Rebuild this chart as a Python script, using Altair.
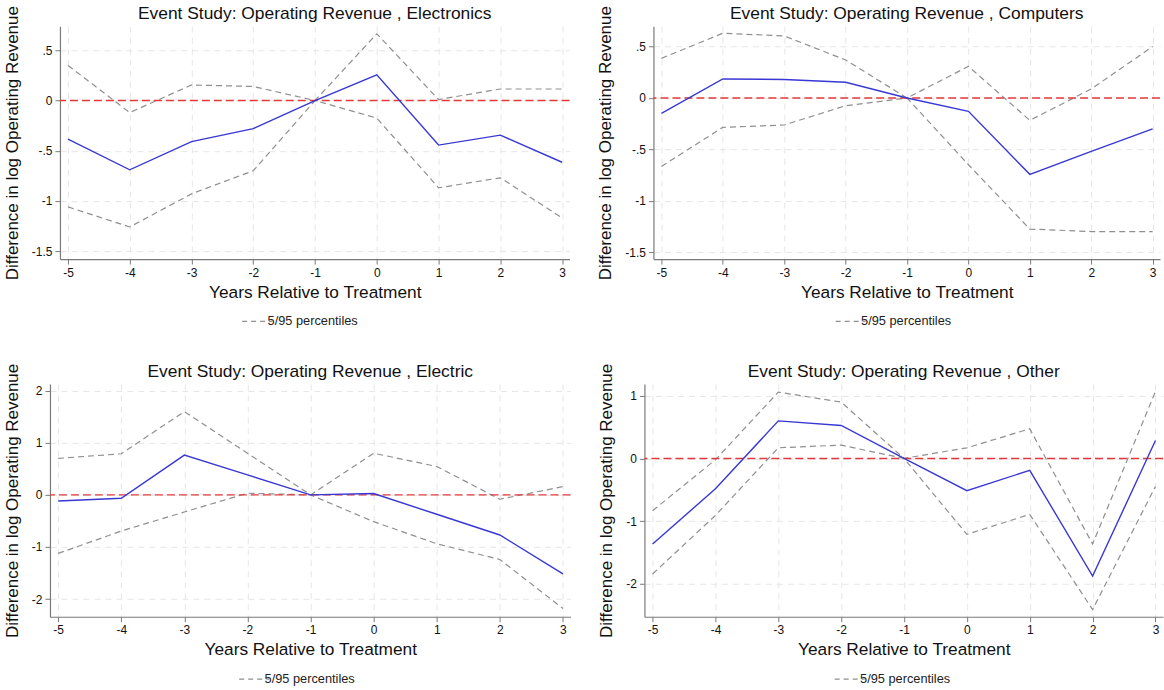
import altair as alt
import pandas as pd

# Event-study estimates of log operating revenue, by sector
years = [-5, -4, -3, -2, -1, 0, 1, 2, 3]

electronics_coef = [-0.385, -0.69, -0.41, -0.28, 0.0, 0.257, -0.444, -0.345, -0.615]
electronics_hi = [0.35, -0.12, 0.155, 0.14, 0.0, 0.665, 0.01, 0.115, 0.115]
electronics_lo = [-1.06, -1.26, -0.93, -0.70, 0.0, -0.175, -0.87, -0.77, -1.17]

computers_coef = [-0.15, 0.185, 0.18, 0.153, 0.0, -0.13, -0.743, -0.52, -0.30]
computers_hi = [0.386, 0.63, 0.604, 0.37, 0.0, 0.308, -0.218, 0.088, 0.50]
computers_lo = [-0.666, -0.286, -0.263, -0.075, 0.0, -0.65, -1.276, -1.30, -1.30]

electric_coef = [-0.116, -0.064, 0.764, 0.385, 0.0, 0.026, -0.372, -0.77, -1.516]
electric_hi = [0.70, 0.79, 1.60, 0.80, 0.0, 0.80, 0.546, -0.083, 0.16]
electric_lo = [-1.124, -0.694, -0.328, 0.032, 0.0, -0.514, -0.938, -1.24, -2.18]

other_coef = [-1.367, -0.484, 0.60, 0.527, 0.0, -0.516, -0.19, -1.88, 0.287]
other_hi = [-0.835, -0.02, 1.06, 0.90, 0.0, 0.17, 0.473, -1.367, 1.07]
other_lo = [-1.846, -0.91, 0.17, 0.213, 0.0, -1.213, -0.894, -2.415, -0.447]

band_label = "5/95 percentiles"
FONT = "Liberation Sans"

# Stata-style numbers: hyphen minus, no leading zero before the decimal point
stata_label = "(datum.value < 0 ? '-' : '') + replace(format(abs(datum.value), '~g'), '0.', '.')"


def panel(sector, coef, lo, hi, ydomain, yticks, width, height, legend_x):
    est = pd.DataFrame({"year": years, "coef": coef})
    band = pd.DataFrame({
        "year": years * 2,
        "value": lo + hi,
        "bound": ["lo"] * len(years) + ["hi"] * len(years),
        "band": [band_label] * (2 * len(years)),
    })

    xscale = alt.Scale(domain=[-5.13, 3.12], nice=False, zero=False)
    yscale = alt.Scale(domain=ydomain, nice=False, zero=False)
    xaxis = alt.Axis(values=years, labelExpr=stata_label, title="Years Relative to Treatment")
    yaxis = alt.Axis(values=yticks, labelExpr=stata_label, title="Difference in log Operating Revenue")

    ci = alt.Chart(band).mark_line(strokeWidth=1.2, strokeDash=[6, 4]).encode(
        x=alt.X("year:Q", scale=xscale, axis=xaxis),
        y=alt.Y("value:Q", scale=yscale, axis=yaxis),
        detail="bound:N",
        color=alt.Color(
            "band:N",
            scale=alt.Scale(domain=[band_label], range=["#8f8f8f"]),
            legend=alt.Legend(
                title=None,
                orient="none",
                legendX=legend_x,
                legendY=height + 56,
                symbolType="M-3,0L3,0",
                symbolSize=100,
                symbolDash=[5, 4],
                symbolStrokeWidth=1.2,
                labelFontSize=12.8,
                labelFont=FONT,
                labelColor="#222222",
                labelOffset=4,
            ),
        ),
    )

    zero = alt.Chart(pd.DataFrame({"y": [0]})).mark_rule(
        color="#e3393b", strokeWidth=1.4, strokeDash=[8, 4]
    ).encode(y="y:Q")

    line = alt.Chart(est).mark_line(color="#3838d4", strokeWidth=1.4).encode(
        x="year:Q", y="coef:Q"
    )

    return alt.layer(ci, zero, line).properties(
        width=width,
        height=height,
        title=alt.TitleParams(
            text=f"Event Study: Operating Revenue , {sector}",
            fontSize=17.4,
            font=FONT,
            fontWeight="normal",
            color="#111111",
            anchor="middle",
            frame="group",
            offset=-17,
        ),
    )


def anchor_cell():
    # empty 1x1 cell that starts each row, so every row is laid out from its own left edge
    return alt.Chart(pd.DataFrame({"v": [0]})).mark_point(size=0, opacity=0).encode(
        x=alt.value(0), y=alt.value(0)
    ).properties(width=1, height=1)


p1 = panel("Electronics", electronics_coef, electronics_lo, electronics_hi,
           [-1.58, 0.74], [0.5, 0, -0.5, -1, -1.5], 510, 233, 191)
p2 = panel("Computers", computers_coef, computers_lo, computers_hi,
           [-1.568, 0.698], [0.5, 0, -0.5, -1, -1.5], 507, 233, 191)
p3 = panel("Electric", electric_coef, electric_lo, electric_hi,
           [-2.34, 2.13], [2, 1, 0, -1, -2], 521, 233, 198)
p4 = panel("Other", other_coef, other_lo, other_hi,
           [-2.53, 1.19], [1, 0, -1, -2], 519, 233, 199)

row1 = alt.hconcat(anchor_cell(), p1, p2, spacing=26).resolve_scale(color="independent")
row2 = alt.hconcat(anchor_cell(), p3, p4, spacing=26).resolve_scale(color="independent")

chart = alt.vconcat(row1, row2, spacing=33).resolve_scale(
    color="independent"
).properties(
    padding={"left": -24, "top": 4, "right": 0, "bottom": 0},
    background="white",
).configure_view(
    stroke=None
).configure_axis(
    labelFont=FONT,
    titleFont=FONT,
    labelFontSize=12,
    titleFontSize=17,
    titleFontWeight="normal",
    labelColor="#111111",
    titleColor="#111111",
    domainColor="#7a7a7a",
    domainWidth=1.2,
    tickColor="#7a7a7a",
    tickSize=5,
    labelPadding=3,
    gridColor="#e6e6e6",
    gridDash=[6, 5],
    gridWidth=1,
).configure_axisY(
    titlePadding=10,
).configure_axisX(
    titlePadding=5,
    titleFontSize=17.3,
    labelAngle=0,
)

chart.save("out.html", embed_options={"renderer": "svg", "actions": False})
